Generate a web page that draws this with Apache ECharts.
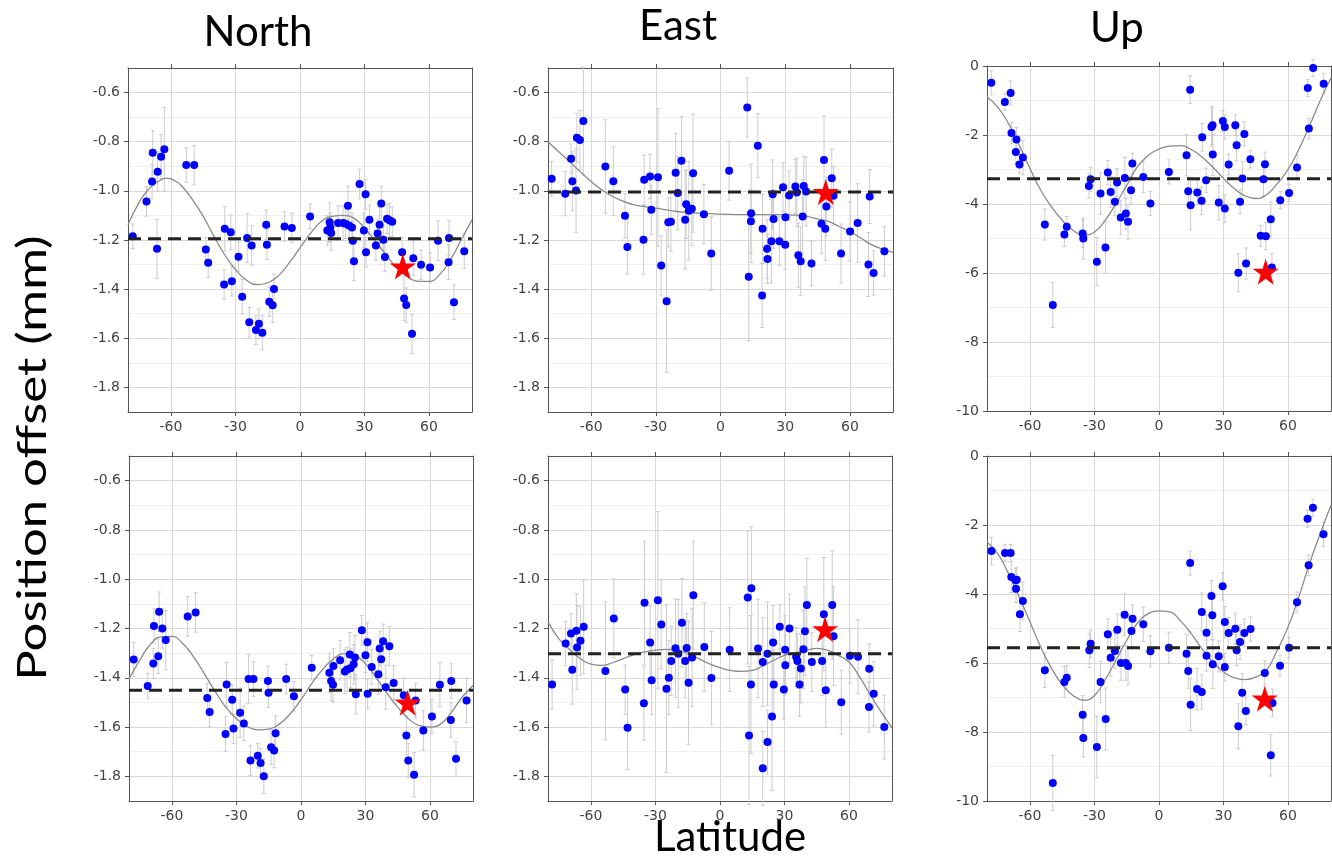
<!DOCTYPE html>
<html>
<head>
<meta charset="UTF-8">
<title>Position offset vs latitude</title>
<script src="https://cdn.jsdelivr.net/npm/echarts@6/dist/echarts.min.js"></script>
<style>
  html, body { margin: 0; padding: 0; background: #fff; }
  #main { width: 1332px; height: 857px; }
</style>
</head>
<body>
<div id="main"></div>
<script>
  // each point: [latitude, offset (mm), error (mm)]
  var northTop = [
    [-77.8,-1.185,0.05],[-71.4,-1.043,0.06],[-68.8,-0.962,0.07],[-68.5,-0.845,0.09],[-66.5,-1.236,0.12],
    [-66.2,-0.922,0.08],[-64.6,-0.861,0.09],[-63.1,-0.831,0.17],[-52.9,-0.895,0.07],[-49.2,-0.895,0.08],
    [-43.8,-1.239,0.05],[-42.7,-1.293,0.06],[-35.0,-1.154,0.09],[-35.3,-1.381,0.06],[-32.2,-1.168,0.07],
    [-31.7,-1.368,0.06],[-28.6,-1.268,0.06],[-26.9,-1.431,0.07],[-24.6,-1.192,0.10],[-23.6,-1.535,0.06],
    [-22.5,-1.222,0.08],[-20.5,-1.566,0.06],[-19.1,-1.541,0.06],[-17.5,-1.577,0.07],[-15.7,-1.138,0.06],
    [-15.4,-1.219,0.06],[-14.3,-1.451,0.06],[-12.7,-1.466,0.07],[-12.1,-1.399,0.06],[-7.2,-1.145,0.06],
    [-3.8,-1.151,0.06],[4.7,-1.104,0.05],[12.7,-1.161,0.06],[13.8,-1.128,0.08],[14.5,-1.172,0.07],
    [14.1,-1.149,0.06],[17.7,-1.131,0.07],[20.0,-1.131,0.07],[21.2,-1.134,0.06],[22.3,-1.061,0.08],
    [22.8,-1.141,0.07],[24.2,-1.149,0.06],[24.6,-1.203,0.08],[25.1,-1.286,0.08],[27.7,-0.972,0.06],
    [29.7,-1.161,0.07],[30.5,-1.014,0.06],[30.7,-1.25,0.06],[32.3,-1.118,0.06],[35.3,-1.222,0.06],
    [36.1,-1.174,0.06],[37.0,-1.138,0.07],[37.8,-1.051,0.07],[38.8,-1.199,0.06],[39.5,-1.269,0.06],
    [40.5,-1.114,0.06],[41.6,-1.12,0.07],[42.9,-1.126,0.06],[47.5,-1.25,0.06],[48.4,-1.438,0.09],
    [49.4,-1.465,0.07],[52.7,-1.274,0.07],[52.1,-1.582,0.08],[56.3,-1.301,0.06],[60.5,-1.312,0.06],
    [64.2,-1.203,0.08],[69.3,-1.192,0.07],[69.1,-1.291,0.07],[71.6,-1.453,0.07],[76.4,-1.246,0.07]
  ];
  var eastTop = [
    [-78.3,-0.951,0.07],[-72.0,-1.012,0.09],[-69.3,-0.869,0.06],[-68.7,-0.961,0.12],[-67.0,-0.999,0.17],
    [-66.6,-0.784,0.10],[-65.2,-0.793,0.12],[-63.6,-0.716,0.22],[-53.4,-0.901,0.19],[-49.7,-0.961,0.14],
    [-44.3,-1.101,0.09],[-43.2,-1.228,0.11],[-35.7,-1.199,0.14],[-35.4,-0.955,0.10],[-32.7,-0.942,0.09],
    [-32.1,-1.077,0.10],[-29.0,-0.945,0.28],[-27.5,-1.304,0.12],[-25.0,-1.449,0.29],[-24.2,-1.128,0.10],
    [-23.0,-1.126,0.12],[-20.8,-0.926,0.16],[-19.8,-1.009,0.15],[-18.1,-0.877,0.18],[-16.4,-1.118,0.20],
    [-15.9,-1.054,0.14],[-14.7,-1.081,0.20],[-13.3,-1.073,0.15],[-12.7,-0.928,0.24],[-7.7,-1.095,0.12],
    [-4.3,-1.255,0.15],[4.0,-0.918,0.12],[12.4,-0.661,0.12],[13.1,-1.35,0.26],[14.1,-1.124,0.13],
    [14.2,-1.091,0.20],[17.3,-0.816,0.13],[19.5,-1.154,0.14],[19.3,-1.426,0.13],[21.6,-1.236,0.12],
    [21.8,-1.277,0.10],[23.6,-1.205,0.17],[24.2,-1.014,0.14],[24.6,-1.115,0.12],[27.3,-1.205,0.10],
    [29.0,-0.985,0.10],[30.0,-1.219,0.10],[30.1,-1.107,0.12],[31.8,-1.019,0.10],[34.7,-0.982,0.11],
    [35.4,-1.007,0.14],[36.1,-1.262,0.13],[37.2,-1.286,0.14],[38.1,-1.104,0.15],[38.6,-0.98,0.12],
    [39.7,-1.003,0.14],[42.2,-1.296,0.09],[46.8,-1.134,0.12],[48.0,-0.874,0.18],[48.6,-1.154,0.13],
    [49.1,-1.064,0.12],[51.6,-0.949,0.12],[52.4,-1.02,0.12],[55.9,-1.255,0.12],[60.1,-1.165,0.12],
    [63.6,-1.131,0.16],[69.2,-1.023,0.11],[68.6,-1.3,0.13],[71.0,-1.334,0.09],[76.0,-1.246,0.10]
  ];
  var upTop = [
    [-78.0,-0.483,0.35],[-71.7,-1.042,0.25],[-69.0,-0.782,0.35],[-68.6,-1.94,0.30],[-66.6,-2.49,0.35],
    [-66.3,-2.133,0.35],[-64.9,-2.857,0.25],[-63.3,-2.654,0.50],[-53.1,-4.595,0.45],[-49.4,-6.93,0.65],
    [-44.0,-4.884,0.35],[-42.9,-4.662,0.30],[-35.5,-4.855,0.40],[-35.2,-5.0,0.60],[-32.6,-3.475,0.35],
    [-31.8,-3.282,0.35],[-28.9,-5.676,0.70],[-27.2,-3.697,0.60],[-24.9,-5.26,0.75],[-23.8,-3.089,0.35],
    [-22.5,-3.649,0.45],[-20.5,-3.938,0.40],[-19.5,-3.378,0.40],[-17.8,-4.392,0.50],[-15.9,-3.243,0.60],
    [-15.4,-4.276,0.45],[-14.4,-4.517,0.50],[-13.0,-3.6,0.40],[-12.4,-2.828,0.30],[-7.3,-3.214,0.45],
    [-4.0,-3.986,0.35],[4.6,-3.069,0.35],[12.8,-2.587,0.60],[13.6,-3.629,0.40],[14.5,-0.685,0.40],
    [14.7,-4.035,0.70],[17.8,-3.668,0.35],[19.8,-3.909,0.40],[20.1,-2.066,0.40],[21.9,-3.311,0.35],
    [24.4,-1.766,0.55],[24.9,-1.718,0.55],[25.0,-2.568,0.60],[27.8,-3.958,0.50],[29.7,-1.593,0.30],
    [30.6,-1.766,0.35],[30.6,-4.131,0.40],[32.4,-2.857,0.30],[35.5,-1.718,0.30],[36.1,-2.297,0.45],
    [36.9,-5.994,0.55],[37.7,-3.938,0.35],[38.8,-3.263,0.50],[39.7,-1.969,0.35],[40.5,-5.724,0.45],
    [42.5,-2.703,0.25],[47.3,-4.923,0.30],[48.6,-3.282,0.50],[49.3,-2.847,0.35],[49.7,-4.932,0.40],
    [52.0,-4.44,0.50],[52.5,-5.84,0.40],[56.4,-3.89,0.25],[60.5,-3.678,0.25],[64.2,-2.944,0.35],
    [69.2,-0.637,0.25],[69.7,-1.815,0.30],[71.7,-0.058,0.25],[76.6,-0.512,0.30]
  ];
  var northBottom = [
    [-77.8,-1.326,0.07],[-71.3,-1.433,0.05],[-68.7,-1.342,0.06],[-68.4,-1.19,0.07],[-66.4,-1.313,0.07],
    [-66.0,-1.132,0.08],[-64.5,-1.2,0.08],[-62.9,-1.247,0.12],[-52.7,-1.151,0.08],[-49.0,-1.135,0.08],
    [-43.6,-1.482,0.06],[-42.5,-1.539,0.06],[-34.6,-1.427,0.09],[-35.1,-1.628,0.07],[-32.0,-1.489,0.06],
    [-31.4,-1.606,0.06],[-28.3,-1.542,0.10],[-26.6,-1.585,0.07],[-24.4,-1.405,0.10],[-23.5,-1.736,0.06],
    [-22.1,-1.405,0.07],[-20.1,-1.716,0.05],[-18.8,-1.746,0.06],[-17.3,-1.8,0.07],[-15.4,-1.413,0.06],
    [-15.1,-1.461,0.06],[-13.9,-1.682,0.07],[-12.5,-1.695,0.07],[-11.8,-1.625,0.07],[-6.9,-1.405,0.06],
    [-3.3,-1.475,0.06],[5.0,-1.359,0.05],[13.2,-1.38,0.08],[14.0,-1.413,0.08],[14.9,-1.428,0.07],
    [15.1,-1.352,0.07],[18.2,-1.329,0.08],[20.4,-1.374,0.09],[21.4,-1.366,0.09],[22.7,-1.306,0.09],
    [23.0,-1.361,0.08],[24.5,-1.345,0.08],[25.1,-1.318,0.09],[25.5,-1.467,0.08],[28.3,-1.207,0.06],
    [30.0,-1.309,0.07],[30.9,-1.256,0.08],[31.0,-1.465,0.06],[32.9,-1.356,0.07],[36.0,-1.386,0.08],
    [36.6,-1.281,0.07],[37.3,-1.325,0.07],[38.2,-1.252,0.07],[39.4,-1.438,0.09],[41.1,-1.272,0.08],
    [43.1,-1.421,0.07],[47.8,-1.471,0.07],[49.0,-1.634,0.08],[49.9,-1.736,0.07],[53.3,-1.492,0.07],
    [52.6,-1.793,0.09],[56.9,-1.614,0.08],[60.9,-1.557,0.07],[64.6,-1.428,0.09],[69.9,-1.413,0.07],
    [69.7,-1.571,0.07],[72.1,-1.729,0.07],[77.0,-1.492,0.09]
  ];
  var eastBottom = [
    [-78.1,-1.427,0.10],[-71.8,-1.261,0.09],[-69.3,-1.22,0.08],[-68.7,-1.367,0.14],[-66.8,-1.209,0.15],
    [-66.5,-1.277,0.17],[-64.9,-1.25,0.14],[-63.4,-1.193,0.19],[-53.3,-1.372,0.28],[-49.4,-1.159,0.16],
    [-44.1,-1.448,0.10],[-43.0,-1.603,0.17],[-35.4,-1.503,0.15],[-35.1,-1.095,0.25],[-32.5,-1.257,0.15],
    [-31.8,-1.41,0.14],[-28.9,-1.085,0.36],[-27.3,-1.184,0.18],[-24.9,-1.444,0.34],[-23.8,-1.4,0.15],
    [-22.7,-1.332,0.14],[-20.7,-1.28,0.20],[-19.4,-1.302,0.22],[-17.7,-1.177,0.18],[-16.2,-1.332,0.15],
    [-15.5,-1.279,0.14],[-14.6,-1.42,0.25],[-13.0,-1.318,0.20],[-12.4,-1.065,0.22],[-7.3,-1.275,0.18],
    [-4.0,-1.401,0.19],[4.5,-1.286,0.17],[12.9,-1.074,0.27],[13.5,-1.634,0.28],[14.4,-1.427,0.28],
    [14.6,-1.037,0.25],[17.7,-1.281,0.20],[19.9,-1.336,0.18],[19.9,-1.767,0.15],[22.1,-1.302,0.21],
    [22.1,-1.661,0.13],[24.2,-1.557,0.30],[24.7,-1.257,0.15],[25.0,-1.427,0.14],[27.8,-1.193,0.09],
    [29.7,-1.448,0.12],[30.3,-1.286,0.14],[30.4,-1.349,0.12],[32.3,-1.2,0.14],[35.4,-1.315,0.12],
    [36.0,-1.332,0.11],[37.0,-1.427,0.13],[37.6,-1.362,0.14],[38.8,-1.284,0.16],[39.5,-1.211,0.18],
    [40.4,-1.105,0.19],[42.7,-1.336,0.12],[47.5,-1.332,0.14],[48.3,-1.142,0.23],[49.2,-1.451,0.15],
    [52.2,-1.105,0.22],[52.8,-1.231,0.20],[56.4,-1.499,0.13],[60.4,-1.311,0.11],[64.2,-1.315,0.15],
    [69.4,-1.363,0.10],[69.3,-1.519,0.10],[71.5,-1.465,0.13],[76.4,-1.6,0.13]
  ];
  var upBottom = [
    [-77.9,-2.754,0.40],[-71.6,-2.812,0.25],[-69.0,-2.812,0.25],[-68.7,-3.507,0.45],[-66.7,-3.604,0.35],
    [-66.2,-3.585,0.35],[-66.5,-3.845,0.40],[-64.7,-4.589,0.50],[-63.3,-4.203,0.55],[-53.1,-6.213,0.50],
    [-49.4,-9.478,0.80],[-44.0,-6.551,0.45],[-42.9,-6.425,0.35],[-35.5,-7.498,0.55],[-35.2,-8.174,0.55],
    [-32.4,-5.633,0.50],[-31.8,-5.44,0.40],[-28.9,-8.435,0.90],[-27.2,-6.551,0.60],[-24.8,-7.623,0.90],
    [-23.8,-5.169,0.45],[-22.5,-5.845,0.55],[-20.5,-5.652,0.50],[-19.4,-5.034,0.45],[-17.7,-6.0,0.50],
    [-16.0,-4.599,0.60],[-15.4,-6.0,0.50],[-14.4,-6.087,0.55],[-12.8,-5.072,0.45],[-12.3,-4.715,0.40],
    [-7.3,-4.879,0.50],[-4.0,-5.662,0.45],[4.6,-5.556,0.45],[12.8,-5.729,0.55],[13.6,-6.232,0.50],
    [14.5,-3.101,0.35],[14.7,-7.208,0.75],[17.7,-6.754,0.60],[19.9,-6.841,0.50],[19.9,-4.522,0.55],
    [22.1,-5.121,0.50],[22.1,-5.787,0.45],[24.4,-4.058,0.45],[24.8,-4.618,0.70],[25.0,-6.039,0.70],
    [27.8,-5.807,0.45],[29.6,-3.778,0.40],[30.6,-4.812,0.45],[30.6,-6.116,0.40],[32.4,-5.13,0.45],
    [35.5,-5.005,0.45],[36.1,-5.633,0.45],[36.9,-7.836,0.65],[37.7,-5.391,0.50],[38.7,-6.86,0.55],
    [39.7,-5.13,0.40],[40.4,-7.391,0.40],[42.6,-5.014,0.35],[49.2,-6.29,0.35],[52.8,-7.159,0.40],
    [52.0,-8.676,0.60],[56.3,-6.077,0.30],[60.5,-5.556,0.30],[64.2,-4.242,0.30],[69.1,-1.816,0.25],
    [69.6,-3.169,0.30],[71.6,-1.498,0.25],[76.5,-2.271,0.35]
  ];

  // fitted curves
  var northTopFit = [[-80,-1.138],[-75,-1.05],[-70,-0.989],[-65,-0.957],[-62,-0.948],[-58,-0.96],[-55,-0.98],[-50,-1.036],
    [-45,-1.104],[-40,-1.185],[-35,-1.26],[-30,-1.32],[-25,-1.363],[-20,-1.382],[-15,-1.374],[-10,-1.345],
    [-5,-1.293],[0,-1.232],[5,-1.172],[10,-1.124],[15,-1.104],[20,-1.1],[25,-1.111],[30,-1.151],[35,-1.205],
    [40,-1.26],[45,-1.314],[50,-1.35],[55,-1.368],[60,-1.368],[65,-1.34],[70,-1.28],[75,-1.199],[80,-1.118]];
  var eastTopFit = [[-80,-0.8],[-75,-0.841],[-70,-0.881],[-65,-0.922],[-60,-0.962],[-55,-0.996],[-50,-1.023],
    [-45,-1.043],[-40,-1.057],[-35,-1.064],[-30,-1.07],[-25,-1.077],[-20,-1.084],[-15,-1.088],[-10,-1.091],
    [-5,-1.093],[0,-1.095],[5,-1.096],[10,-1.097],[15,-1.097],[20,-1.097],[25,-1.097],[30,-1.097],[35,-1.099],
    [40,-1.104],[45,-1.114],[50,-1.124],[55,-1.145],[60,-1.165],[65,-1.192],[70,-1.219],[75,-1.236],[80,-1.25]];
  var upTopFit = [[-80,-0.9],[-75,-1.19],[-70,-1.67],[-65,-2.3],[-60,-2.97],[-55,-3.6],[-50,-4.08],[-45,-4.47],
    [-40,-4.76],[-35,-4.9],[-30,-4.81],[-25,-4.47],[-20,-3.99],[-15,-3.46],[-10,-2.92],[-5,-2.59],[0,-2.41],
    [5,-2.32],[10,-2.31],[15,-2.42],[20,-2.64],[25,-2.93],[30,-3.26],[35,-3.55],[40,-3.76],[45,-3.84],
    [50,-3.73],[55,-3.41],[60,-3.0],[65,-2.42],[70,-1.73],[75,-1.0],[80,-0.35]];
  var northBottomFit = [[-80,-1.404],[-75,-1.329],[-70,-1.264],[-65,-1.234],[-60,-1.232],[-55,-1.261],[-50,-1.315],
    [-45,-1.383],[-40,-1.454],[-35,-1.519],[-30,-1.566],[-25,-1.598],[-20,-1.611],[-15,-1.608],[-10,-1.587],
    [-5,-1.546],[0,-1.489],[5,-1.424],[10,-1.367],[15,-1.324],[20,-1.302],[25,-1.309],[30,-1.343],[35,-1.4],
    [40,-1.462],[45,-1.519],[50,-1.566],[55,-1.594],[60,-1.6],[65,-1.587],[70,-1.539],[75,-1.478],[80,-1.431]];
  var eastBottomFit = [[-80,-1.173],[-75,-1.241],[-70,-1.285],[-65,-1.322],[-60,-1.345],[-55,-1.35],[-50,-1.339],
    [-45,-1.322],[-40,-1.306],[-35,-1.295],[-30,-1.288],[-25,-1.285],[-20,-1.288],[-15,-1.302],[-10,-1.322],
    [-5,-1.343],[0,-1.359],[5,-1.37],[10,-1.374],[15,-1.37],[20,-1.352],[25,-1.329],[30,-1.309],[35,-1.298],
    [40,-1.288],[45,-1.281],[50,-1.288],[55,-1.309],[60,-1.336],[65,-1.397],[70,-1.471],[75,-1.539],[80,-1.603]];
  var upBottomFit = [[-80,-2.49],[-75,-2.83],[-70,-3.41],[-65,-4.09],[-60,-4.81],[-55,-5.54],[-50,-6.15],[-45,-6.63],
    [-40,-6.94],[-35,-7.08],[-30,-6.94],[-25,-6.48],[-20,-5.92],[-15,-5.34],[-10,-4.84],[-5,-4.57],[0,-4.49],
    [5,-4.52],[10,-4.78],[15,-5.15],[20,-5.59],[25,-5.97],[30,-6.26],[35,-6.43],[40,-6.48],[45,-6.41],
    [50,-6.21],[55,-5.63],[60,-4.96],[65,-4.09],[70,-3.12],[75,-2.25],[80,-1.43]];

  // mean level (dashed) and the starred station, per panel
  var levels = [-1.195, -1.005, -3.27, -1.451, -1.302, -5.556];
  var stars = [[47.8,-1.308],[48.8,-1.005],[49.6,-5.965],[49.6,-1.501],[48.9,-1.203],[49.2,-7.034]];

  var titles = ['North', 'East', 'Up'];
  var latTicks = [-60, -30, 0, 30, 60];
  var mmTicks = [-1.8, -1.6, -1.4, -1.2, -1.0, -0.8, -0.6];
  var upTicks = [-10, -8, -6, -4, -2, 0];

  var pts = [northTop, eastTop, upTop, northBottom, eastBottom, upBottom];
  var fits = [northTopFit, eastTopFit, upTopFit, northBottomFit, eastBottomFit, upBottomFit];

  var boxes = [
    {left: 128, top: 68, width: 344, height: 344},
    {left: 548, top: 68, width: 345, height: 344},
    {left: 987, top: 66, width: 344, height: 345},
    {left: 129, top: 456, width: 344, height: 345},
    {left: 548, top: 456, width: 344, height: 345},
    {left: 987, top: 456, width: 344, height: 345}
  ];

  var starPath = 'path://M50,0 L61.2,34.5 L97.6,34.5 L68.2,55.9 L79.4,90.5 L50,69.1 L20.6,90.5 L31.8,55.9 L2.4,34.5 L38.8,34.5 Z';
  var labelFont = {color: '#444', fontFamily: 'DejaVu Sans', fontSize: 14};
  var frame = {show: true, onZero: false, lineStyle: {color: '#555', width: 1}};
  var clear = 'rgba(0,0,0,0)';

  var grid = [], xAxis = [], yAxis = [], series = [];

  boxes.forEach(function (b, i) {
    var isUp = (i % 3 === 2);
    var yTicks = isUp ? upTicks : mmTicks;
    var yMin = isUp ? -10 : -1.9, yMax = isUp ? 0 : -0.5, yStep = isUp ? 1 : 0.1;
    // right-hand axis only draws the in-between (unlabelled) grid lines
    var minorColors = isUp ? [clear, '#efefef'] : ['#efefef', clear];

    grid.push({left: b.left, top: b.top, width: b.width, height: b.height, containLabel: false, outerBoundsMode: 'none'});

    xAxis.push({
      type: 'value', gridIndex: i, position: 'bottom', min: -80, max: 80, interval: 10,
      axisLine: frame,
      axisTick: {show: true, length: 4, customValues: latTicks, lineStyle: {color: '#555'}},
      axisLabel: Object.assign({margin: 8, customValues: latTicks}, labelFont),
      splitLine: {show: true, lineStyle: {color: '#d9d9d9', width: 1}}
    });
    xAxis.push({
      type: 'value', gridIndex: i, position: 'top', min: -80, max: 80, interval: 10,
      axisLine: frame,
      axisTick: {show: true, length: 4, customValues: latTicks, lineStyle: {color: '#555'}},
      axisLabel: {show: false}, splitLine: {show: false}
    });
    yAxis.push({
      type: 'value', gridIndex: i, position: 'left', min: yMin, max: yMax, interval: yStep,
      axisLine: frame,
      axisTick: {show: true, length: 4, customValues: yTicks, lineStyle: {color: '#555'}},
      axisLabel: Object.assign({
        margin: 8, customValues: yTicks,
        formatter: function (v) { return isUp ? String(Math.round(v)) : v.toFixed(1); }
      }, labelFont),
      splitLine: {show: true, lineStyle: {color: '#d9d9d9', width: 1}}
    });
    yAxis.push({
      type: 'value', gridIndex: i, position: 'right', min: yMin, max: yMax, interval: yStep,
      axisLine: frame,
      axisTick: {show: false},
      axisLabel: {show: false},
      splitLine: {show: true, lineStyle: {color: minorColors, width: 1}}
    });

    var xi = 2 * i, yi = 2 * i;

    // error bars
    series.push({
      type: 'custom', xAxisIndex: xi, yAxisIndex: yi, data: pts[i], silent: true, z: 1,
      encode: {x: 0, y: 1},
      renderItem: function (params, api) {
        var x = api.value(0), y = api.value(1), e = api.value(2);
        var hi = api.coord([x, y + e]), lo = api.coord([x, y - e]);
        var st = {stroke: '#cccccc', lineWidth: 1};
        return {type: 'group', children: [
          {type: 'line', shape: {x1: hi[0], y1: hi[1], x2: lo[0], y2: lo[1]}, style: st},
          {type: 'line', shape: {x1: hi[0] - 2, y1: hi[1], x2: hi[0] + 2, y2: hi[1]}, style: st},
          {type: 'line', shape: {x1: lo[0] - 2, y1: lo[1], x2: lo[0] + 2, y2: lo[1]}, style: st}
        ]};
      }
    });
    // fitted curve
    series.push({
      type: 'line', xAxisIndex: xi, yAxisIndex: yi, data: fits[i], smooth: true,
      symbol: 'none', silent: true, z: 2,
      lineStyle: {color: '#8a8a8a', width: 1.3}
    });
    // stations
    series.push({
      type: 'scatter', xAxisIndex: xi, yAxisIndex: yi, data: pts[i], symbolSize: 8, z: 3,
      itemStyle: {color: '#0000ff', opacity: 1}
    });
    // mean level
    series.push({
      type: 'line', xAxisIndex: xi, yAxisIndex: yi, data: [[-80, levels[i]], [80, levels[i]]],
      symbol: 'none', silent: true, z: 4,
      lineStyle: {color: '#222', width: 3, type: [13, 7]}
    });
    // starred station
    series.push({
      type: 'scatter', xAxisIndex: xi, yAxisIndex: yi, data: [stars[i]], symbol: starPath,
      symbolSize: 26, z: 5, itemStyle: {color: '#ff0000', opacity: 1}
    });
  });

  var bigFont = '42px Lato, "Open Sans", sans-serif';
  var graphic = [
    {type: 'text', x: 258, y: 32, style: {text: titles[0], font: bigFont, fill: '#000', align: 'center', verticalAlign: 'middle'}},
    {type: 'text', x: 678, y: 26, style: {text: titles[1], font: bigFont, fill: '#000', align: 'center', verticalAlign: 'middle'}},
    {type: 'text', x: 1117, y: 28, style: {text: titles[2], font: bigFont, fill: '#000', align: 'center', verticalAlign: 'middle'}},
    {type: 'text', x: 33, y: 458, rotation: Math.PI / 2, scaleX: 1.24,
      style: {text: 'Position offset (mm)', font: '41px Lato, "Open Sans", sans-serif', fill: '#000', align: 'center', verticalAlign: 'middle'}},
    {type: 'text', x: 730, y: 837, style: {text: 'Latitude', font: bigFont, fill: '#000', align: 'center', verticalAlign: 'middle'}}
  ];

  var chart = echarts.init(document.getElementById('main'));
  chart.setOption({
    animation: false,
    backgroundColor: '#fff',
    grid: grid,
    xAxis: xAxis,
    yAxis: yAxis,
    series: series,
    graphic: graphic
  });
</script>
</body>
</html>
